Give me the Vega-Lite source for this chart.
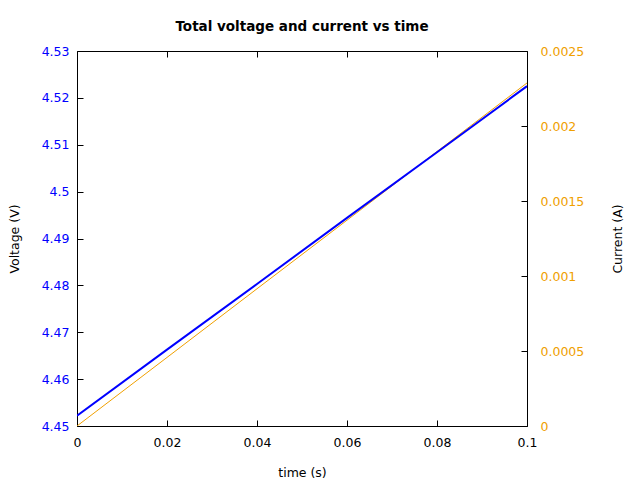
{
  "$schema": "https://vega.github.io/schema/vega-lite/v6.json",
  "autosize": {"type": "none"},
  "width": 450,
  "height": 375,
  "padding": {"left": 77, "top": 51, "right": 113, "bottom": 54},
  "background": "white",
  "title": {"text": "Total voltage and current vs time", "font": "DejaVu Sans", "fontSize": 13.5, "fontWeight": "bold", "color": "black", "offset": 12},
  "config": {
    "view": {"stroke": "black", "strokeWidth": 1},
    "axis": {"labelFont": "DejaVu Sans", "titleFont": "DejaVu Sans", "labelFontSize": 12.5, "titleFontSize": 12.5, "titleFontWeight": "normal", "grid": false, "domain": false, "tickColor": "black", "tickSize": -6, "labelPadding": 14}
  },
  "data": {"values": [
    {"t": 0, "voltage": 4.4522, "current": 0},
    {"t": 0.02, "voltage": 4.4663, "current": 0.000457},
    {"t": 0.04, "voltage": 4.4803, "current": 0.000915},
    {"t": 0.06, "voltage": 4.4944, "current": 0.001372},
    {"t": 0.08, "voltage": 4.5084, "current": 0.00183},
    {"t": 0.1, "voltage": 4.5225, "current": 0.002287}
  ]},
  "encoding": {
    "x": {"field": "t", "type": "quantitative", "scale": {"domain": [0, 0.1], "nice": false, "zero": false},
      "axis": {"title": "time (s)", "values": [0, 0.02, 0.04, 0.06, 0.08, 0.1], "labelColor": "black", "labelFlush": false, "labelPadding": 16, "titlePadding": 18, "labelExpr": "datum.value == 0 ? '0' : format(datum.value, '.2~f')"}}
  },
  "layer": [
    {
      "mark": {"type": "line", "color": "#f0a000", "strokeWidth": 1, "clip": true},
      "encoding": {
        "y": {"field": "current", "type": "quantitative", "scale": {"domain": [0, 0.0025], "nice": false},
          "axis": {"orient": "right", "title": "Current (A)", "titleColor": "black", "titleAngle": 270, "titleBaseline": "middle", "titleX": 90, "labelColor": "#f0a000", "values": [0, 0.0005, 0.001, 0.0015, 0.002, 0.0025], "labelFlush": false, "labelBaseline": "middle", "labelAlign": "left", "labelPadding": 19, "labelExpr": "datum.value == 0 ? '0' : format(datum.value, '~g')"}}
      }
    },
    {
      "mark": {"type": "line", "color": "#0000ff", "strokeWidth": 2, "clip": true},
      "encoding": {
        "y": {"field": "voltage", "type": "quantitative", "scale": {"domain": [4.45, 4.53], "nice": false, "zero": false},
          "axis": {"orient": "left", "title": "Voltage (V)", "titleColor": "black", "titleAngle": 270, "titleBaseline": "middle", "titleX": -63, "labelColor": "#0000ff", "values": [4.45, 4.46, 4.47, 4.48, 4.49, 4.5, 4.51, 4.52, 4.53], "labelFlush": false, "labelExpr": "format(datum.value, '.2~f')"}},
        "x": {"field": "t", "type": "quantitative", "axis": {"orient": "top", "title": null, "labels": false, "values": [0, 0.02, 0.04, 0.06, 0.08, 0.1]}}
      }
    }
  ],
  "resolve": {"scale": {"y": "independent"}, "axis": {"x": "independent"}}
}
